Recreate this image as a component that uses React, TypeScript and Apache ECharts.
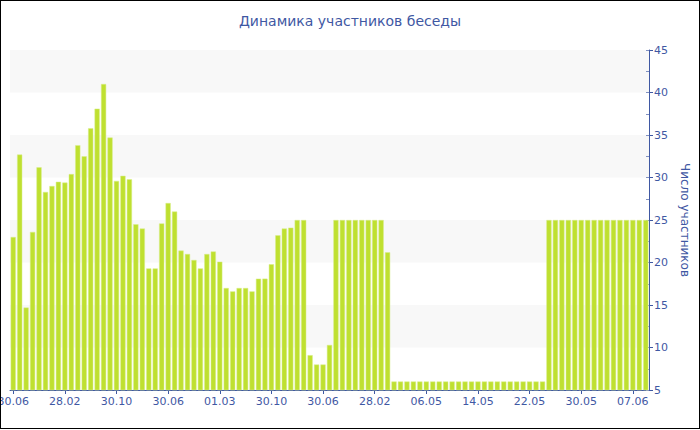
import React, { useEffect, useRef } from "react";
import * as echarts from "echarts";

const TITLE = "Динамика участников беседы";
const Y_NAME = "Число участников";

const categories: string[] = [
  "30.06", "30.07", "30.08", "30.09", "30.10", "30.11", "30.12", "30.01",
  "28.02", "30.03", "30.04", "30.05", "30.06", "30.07", "30.08", "30.09",
  "30.10", "30.11", "30.12", "30.01", "28.02", "30.03", "30.04", "30.05",
  "30.06", "30.07", "30.08", "30.09", "30.10", "30.11", "30.12", "30.01",
  "01.03", "30.03", "30.04", "30.05", "30.06", "30.07", "30.08", "30.09",
  "30.10", "30.11", "30.12", "30.01", "28.02", "30.03", "30.04", "30.05",
  "30.06", "30.07", "30.08", "30.09", "30.10", "30.11", "30.12", "30.01",
  "28.02", "30.03", "30.04", "01.05", "02.05", "03.05", "04.05", "05.05",
  "06.05", "07.05", "08.05", "09.05", "10.05", "11.05", "12.05", "13.05",
  "14.05", "15.05", "16.05", "17.05", "18.05", "19.05", "20.05", "21.05",
  "22.05", "23.05", "24.05", "25.05", "26.05", "27.05", "28.05", "29.05",
  "30.05", "31.05", "01.06", "02.06", "03.06", "04.06", "05.06", "06.06",
  "07.06", "08.06", "09.06",
];

const participants: number[] = [
  23.0, 32.7, 14.7, 23.6, 31.2, 28.3, 29.0, 29.5, 29.4, 30.4,
  33.8, 32.5, 35.8, 38.1, 41.0, 34.7, 29.6, 30.2, 29.8, 24.5,
  24.0, 19.3, 19.3, 24.6, 27.0, 26.0, 21.4, 21.0, 20.3, 19.3,
  21.0, 21.3, 20.1, 17.0, 16.6, 17.0, 17.0, 16.6, 18.1, 18.1,
  19.8, 23.2, 24.0, 24.1, 25, 25, 9.1, 8.0, 8.0, 10.3,
  25, 25, 25, 25, 25, 25, 25, 25, 21.2,
  6, 6, 6, 6, 6, 6, 6, 6, 6, 6, 6, 6, 6, 6, 6, 6, 6, 6, 6, 6, 6, 6, 6, 6,
  25, 25, 25, 25, 25, 25, 25, 25, 25, 25, 25, 25, 25, 25, 25, 25,
];

const Y_MIN = 5;
const Y_MAX = 45;
const Y_STEP = 5;

const BLUE = "#3f58a3";
const FONT = "DejaVu Sans";

export default function App() {
  const ref = useRef<HTMLDivElement>(null);

  useEffect(() => {
    if (!ref.current) return;
    const chart = echarts.init(ref.current, undefined, { renderer: "svg" });
    chart.setOption({
      animation: false,
      backgroundColor: "#ffffff",
      title: {
        text: TITLE,
        left: "center",
        top: 13,
        padding: 0,
        textStyle: { color: BLUE, fontFamily: FONT, fontSize: 14, fontWeight: "normal" },
      },
      grid: { left: 9, right: 50, top: 49, bottom: 38, containLabel: false, outerBoundsMode: "none" },
      xAxis: {
        type: "category",
        data: categories,
        boundaryGap: true,
        axisLine: { show: true, lineStyle: { color: BLUE, width: 1 } },
        axisTick: { show: true, interval: 7, alignWithLabel: true, length: 4, lineStyle: { color: BLUE } },
        axisLabel: { interval: 7, color: BLUE, fontFamily: FONT, fontSize: 11, margin: 6 },
        splitLine: { show: false },
      },
      yAxis: [
        {
          type: "value",
          position: "right",
          min: Y_MIN,
          max: Y_MAX,
          interval: Y_STEP,
          name: Y_NAME,
          nameLocation: "middle",
          nameRotate: -90,
          nameGap: 28,
          nameTextStyle: { color: BLUE, fontFamily: FONT, fontSize: 12 },
          axisLine: { show: true, lineStyle: { color: BLUE, width: 1 } },
          axisTick: { show: true, length: 4, lineStyle: { color: BLUE } },
          axisLabel: { color: BLUE, fontFamily: FONT, fontSize: 11, margin: 5 },
          splitLine: { show: false },
          splitArea: { show: true, areaStyle: { color: ["#ffffff", "#f8f8f8"] } },
        },
        {
          type: "value",
          position: "right",
          min: Y_MIN,
          max: Y_MAX,
          interval: Y_STEP / 2,
          axisLine: { show: false },
          axisTick: { show: true, inside: true, length: 3, lineStyle: { color: "#8090c0" } },
          axisLabel: { show: false },
          splitLine: { show: false },
        },
      ],
      series: [
        {
          type: "bar",
          data: participants,
          yAxisIndex: 0,
          barCategoryGap: "20%",
          itemStyle: { color: "#bfe030", borderColor: "#d9ee8c", borderWidth: 0.5 },
        },
      ],
    });
    return () => chart.dispose();
  }, []);

  return (
    <div
      style={{
        position: "fixed",
        left: 0,
        top: 0,
        width: 700,
        height: 429,
        boxSizing: "border-box",
        border: "1px solid #000",
        background: "#fff",
        overflow: "hidden",
      }}
    >
      <div ref={ref} style={{ width: 698, height: 427 }} />
    </div>
  );
}
